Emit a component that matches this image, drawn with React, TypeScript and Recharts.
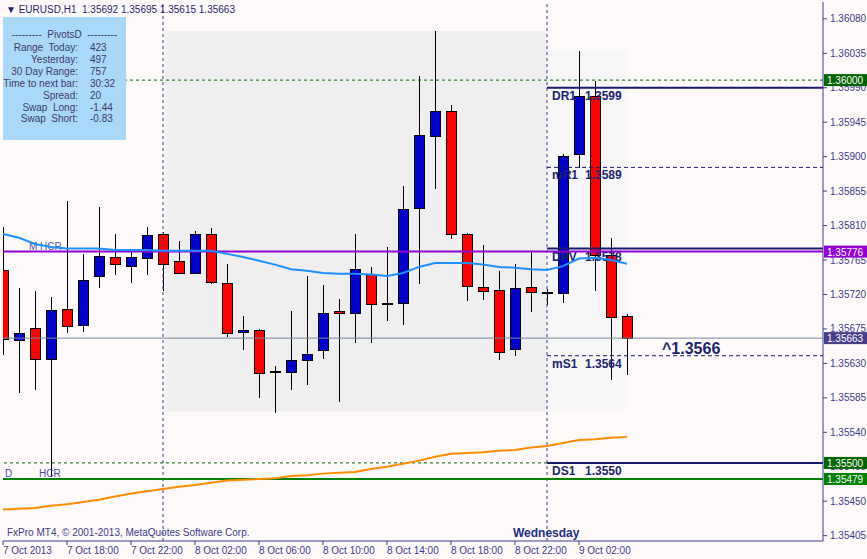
import React from 'react';
import { ComposedChart, Bar, Line, XAxis, YAxis, ReferenceLine, ReferenceArea } from 'recharts';

const FONT = '"Liberation Sans", Arial, sans-serif';
const AXIS = '#3C3C8C';
const NAVY = '#1C2470';

// H1 bars, index 0 = 7 Oct 14:00
const barIndex = [0, 1, 2, 3, 4, 5, 6, 7, 8, 9, 10, 11, 12, 13, 14, 15, 16, 17, 18, 19, 20, 21, 22, 23, 24, 25, 26, 27, 28, 29, 30, 31, 32, 33, 34, 35, 36, 37, 38, 39];
const opens = [1.35752, 1.35661, 1.35676, 1.35636, 1.35701, 1.3568, 1.35744, 1.35769, 1.35757, 1.35768, 1.35799, 1.35764, 1.35748, 1.35799, 1.35735, 1.35671, 1.35674, 1.35619, 1.35619, 1.35635, 1.35648, 1.35699, 1.35696, 1.35747, 1.35708, 1.35709, 1.35833, 1.35927, 1.3596, 1.35799, 1.3573, 1.35726, 1.35649, 1.3573, 1.35722, 1.35722, 1.35904, 1.35979, 1.35772, 1.35692];
const highs = [1.35808, 1.35729, 1.35725, 1.35717, 1.35842, 1.35773, 1.35834, 1.35799, 1.35777, 1.35808, 1.35802, 1.3579, 1.35803, 1.35807, 1.3576, 1.35692, 1.35675, 1.35627, 1.35699, 1.35744, 1.35733, 1.35714, 1.35799, 1.35756, 1.35782, 1.35862, 1.36006, 1.36064, 1.35968, 1.358, 1.35785, 1.35751, 1.3576, 1.35776, 1.35727, 1.35904, 1.36038, 1.35999, 1.35794, 1.35695];
const lows = [1.35641, 1.35591, 1.35595, 1.35482, 1.3567, 1.35671, 1.35729, 1.35746, 1.35735, 1.35746, 1.35725, 1.35747, 1.35747, 1.35734, 1.35665, 1.35648, 1.35585, 1.35565, 1.35595, 1.35602, 1.35636, 1.3558, 1.35656, 1.35657, 1.35686, 1.3568, 1.35734, 1.35858, 1.35793, 1.35712, 1.35713, 1.35635, 1.35639, 1.35697, 1.35706, 1.35709, 1.35885, 1.35725, 1.35608, 1.35615];
const closes = [1.35662, 1.3567, 1.35636, 1.357, 1.35679, 1.35739, 1.3577, 1.3576, 1.35769, 1.35798, 1.3576, 1.35748, 1.35799, 1.35736, 1.3567, 1.35674, 1.35618, 1.35619, 1.35635, 1.35642, 1.35696, 1.35696, 1.35753, 1.35708, 1.35708, 1.35832, 1.35928, 1.3596, 1.35799, 1.35731, 1.35725, 1.35645, 1.35729, 1.35723, 1.35722, 1.35901, 1.35979, 1.35772, 1.35691, 1.35663];
const maFast = [1.35799, 1.35794, 1.35786, 1.35782, 1.3578, 1.3578, 1.3578, 1.35778, 1.35778, 1.35778, 1.35777, 1.35777, 1.35777, 1.35777, 1.35773, 1.35769, 1.35764, 1.35759, 1.35753, 1.35751, 1.35748, 1.35747, 1.35747, 1.35746, 1.35744, 1.35748, 1.35756, 1.35761, 1.35761, 1.35761, 1.35759, 1.35756, 1.35755, 1.35753, 1.35752, 1.35757, 1.35767, 1.35768, 1.35765, 1.3576];
const maSlow = [1.35439, 1.3544, 1.35441, 1.35444, 1.35446, 1.35449, 1.35452, 1.35456, 1.3546, 1.35463, 1.35466, 1.35469, 1.35471, 1.35474, 1.35477, 1.35478, 1.35479, 1.3548, 1.35483, 1.35484, 1.35486, 1.35487, 1.35488, 1.35492, 1.35495, 1.35499, 1.35503, 1.35508, 1.35512, 1.35513, 1.35514, 1.35516, 1.35517, 1.3552, 1.35522, 1.35526, 1.3553, 1.35531, 1.35533, 1.35534];

const priceTicks = [1.3608, 1.36035, 1.3599, 1.35945, 1.359, 1.35855, 1.3581, 1.35765, 1.3572, 1.35675, 1.3563, 1.35585, 1.3554, 1.35495, 1.3545, 1.35405];
const timeTicks = [0, 4, 8, 12, 16, 20, 24, 28, 32, 36];
const timeLabels = ['7 Oct 2013', '7 Oct 18:00', '7 Oct 22:00', '8 Oct 02:00', '8 Oct 06:00', '8 Oct 10:00', '8 Oct 14:00', '8 Oct 18:00', '8 Oct 22:00', '9 Oct 02:00'];

const pivotNames = ['DR1', 'mR1', 'DPV', 'mS1', 'DS1'];
const pivotValues = [1.3599, 1.35886, 1.3578, 1.3564, 1.355];
const pivotLabels = ['1.3599', '1.3589', '1.3578', '1.3564', '1.3550'];
const pivotDashed = [false, true, false, true, false];

const infoLabels = ['Range  Today:', 'Yesterday:', '30 Day Range:', 'Time to next bar:', 'Spread:', 'Swap  Long:', 'Swap  Short:'];
const infoValues = ['423', '497', '757', '30:32', '20', '-1.44', '-0.83'];

const data = barIndex.map((i, k) => ({
  i,
  open: opens[k],
  high: highs[k],
  low: lows[k],
  close: closes[k],
  range: [lows[k], highs[k]],
  maFast: maFast[k],
  maSlow: maSlow[k],
}));

const Candle = (props: any) => {
  const { x, y, width, height, payload } = props;
  if (!payload || x == null || y == null) return null;
  const { open, close, high, low } = payload;
  const top = Math.min(y, y + height);
  const h = Math.abs(height);
  const pix = (v: number) => top + ((high - v) / (high - low)) * h;
  const cx = Math.round(x + width / 2);
  const oy = pix(open);
  const cy = pix(close);
  const bTop = Math.round(Math.min(oy, cy));
  const bBot = Math.round(Math.max(oy, cy));
  const doji = Math.abs(close - open) < 0.000005;
  const up = close > open;
  return (
    <g shapeRendering="crispEdges">
      <line x1={cx + 0.5} x2={cx + 0.5} y1={top} y2={top + h} stroke="#000" strokeWidth={1} />
      {doji ? (
        <rect x={cx - 5} y={Math.round(oy) - 1} width={11} height={2} fill="#000" />
      ) : (
        <rect x={cx - 4.5} y={bTop + 0.5} width={10} height={Math.max(1, bBot - bTop)} fill={up ? '#0000CD' : '#FF0000'} stroke="#000" strokeWidth={1} />
      )}
    </g>
  );
};

const priceBox = (text: string, color: string, extra?: (vb: any) => React.ReactNode) => (props: any) => {
  const vb = props.viewBox;
  if (!vb) return null;
  const ly = vb.y;
  const rx = vb.x + vb.width + 1;
  return (
    <g>
      {extra ? extra(vb) : null}
      <rect x={rx} y={ly - 6} width={44} height={12} fill={color} />
      <text x={rx + 3} y={ly + 4} fill="#FFFFFF" fontSize={10} fontFamily={FONT}>{text}</text>
    </g>
  );
};

const pivotLabel = (name: string, val: string) => (props: any) => {
  const vb = props.viewBox;
  if (!vb) return null;
  return (
    <g>
      <text x={vb.x + 5} y={vb.y + 12} fill={NAVY} fontSize={12} fontWeight="bold" fontFamily={FONT}>{name}</text>
      <text x={vb.x + 38} y={vb.y + 12} fill={NAVY} fontSize={12} fontWeight="bold" fontFamily={FONT}>{val}</text>
    </g>
  );
};

const TimeTick = (props: any) => {
  const { x, y, payload } = props;
  const idx = timeTicks.indexOf(payload.value);
  return (
    <text x={x} y={y + 7} fill={AXIS} fontSize={10} fontFamily={FONT} textAnchor="start">{timeLabels[idx]}</text>
  );
};

export default function App() {
  return (
    <div style={{ position: 'absolute', left: 0, top: 0, width: 867, height: 559, background: '#FFFAFA', overflow: 'hidden', fontFamily: FONT }}>
      <ComposedChart width={867} height={559} data={data} margin={{ top: 2, right: 0, left: 3, bottom: 0 }}>
        <XAxis dataKey="i" type="number" domain={[0, 51.25]} allowDataOverflow ticks={timeTicks} interval={0}
          height={18} tickSize={4} tickMargin={2} stroke={AXIS} tick={<TimeTick />} />
        <XAxis xAxisId="top" dataKey="i" type="number" domain={[0, 51.25]} orientation="top" height={0} tick={false} tickLine={false} stroke={AXIS} />
        <YAxis type="number" orientation="right" domain={[1.35398, 1.36102]} allowDataOverflow ticks={priceTicks} interval={0}
          width={44} tickSize={4} tickMargin={3} stroke={AXIS}
          tick={{ fill: AXIS, fontSize: 10, fontFamily: FONT }} tickFormatter={(v: number) => v.toFixed(5)} />
        <YAxis yAxisId="left" orientation="left" width={0} tick={false} tickLine={false} stroke={AXIS} />

        <ReferenceArea x1={10.1} x2={34} y1={1.35567} y2={1.36064} fill="#EFEFEF" fillOpacity={1} stroke="none" />
        <ReferenceArea x1={34} x2={39} y1={1.35567} y2={1.3604} fill="#F7F7F7" fillOpacity={1} stroke="none" />

        <ReferenceLine x={10} stroke={AXIS} strokeDasharray="3 3" />
        <ReferenceLine x={34} stroke={AXIS} strokeDasharray="3 3" />

        <ReferenceLine y={1.36} stroke="#006400" strokeDasharray="3 3" />
        <ReferenceLine y={1.355} stroke="#006400" strokeDasharray="3 3" />

        {pivotValues.map((v, k) => (
          <ReferenceLine key={pivotNames[k]} segment={[{ x: 34, y: v }, { x: 51.25, y: v }]}
            stroke="#191970" strokeWidth={pivotDashed[k] ? 1 : 2} strokeDasharray={pivotDashed[k] ? '4 3' : undefined}
            label={pivotLabel(pivotNames[k], pivotLabels[k])} />
        ))}

        <ReferenceLine y={1.35776} stroke="#9400D3" strokeWidth={2}
          label={(p: any) => (p.viewBox ? <text x={p.viewBox.x + 26} y={p.viewBox.y - 2} fill="#5050A0" fontSize={10} fontFamily={FONT}>M HCR</text> : null)} />
        <ReferenceLine y={1.35663} stroke="#778899" strokeWidth={1}
          label={(p: any) => (p.viewBox ? <text x={p.viewBox.x + 659} y={p.viewBox.y + 16} fill={NAVY} fontSize={16} fontWeight="bold" fontFamily={FONT}>^1.3566</text> : null)} />
        <ReferenceLine y={1.35479} stroke="#008000" strokeWidth={2}
          label={(p: any) => (p.viewBox ? (
            <g>
              <text x={p.viewBox.x + 2} y={p.viewBox.y - 2} fill="#4848A0" fontSize={10} fontFamily={FONT}>D</text>
              <text x={p.viewBox.x + 36} y={p.viewBox.y - 2} fill="#4848A0" fontSize={10} fontFamily={FONT}>HCR</text>
            </g>
          ) : null)} />

        <Bar dataKey="range" barSize={10} shape={<Candle />} isAnimationActive={false} />
        <Line dataKey="maFast" type="linear" stroke="#1E90FF" strokeWidth={2} dot={false} activeDot={false} isAnimationActive={false} />
        <Line dataKey="maSlow" type="linear" stroke="#FF8C00" strokeWidth={2} dot={false} activeDot={false} isAnimationActive={false} />

        <ReferenceLine y={1.36} stroke="none" zIndex={2000} label={priceBox('1.36000', '#006400')} />
        <ReferenceLine y={1.35776} stroke="none" zIndex={2000} label={priceBox('1.35776', '#9400D3')} />
        <ReferenceLine y={1.35663} stroke="none" zIndex={2000} label={priceBox('1.35663', '#483D8B')} />
        <ReferenceLine y={1.355} stroke="none" zIndex={2000} label={priceBox('1.35500', '#006400')} />
        <ReferenceLine y={1.35479} stroke="none" zIndex={2000} label={priceBox('1.35479', '#008000')} />
      </ComposedChart>

      <div style={{ position: 'absolute', left: 6, top: 3, fontSize: 10, lineHeight: '13px', color: '#24246A', whiteSpace: 'pre' }}>
        {'\u25BC EURUSD,H1  1.35692 1.35695 1.35615 1.35663'}
      </div>

      <div style={{ position: 'absolute', left: 3, top: 17, width: 123, height: 123, background: '#AAD8F8', color: '#3B3B6B', fontSize: 10 }}>
        <div style={{ position: 'absolute', left: 0, width: 123, top: 12, lineHeight: '12px', textAlign: 'center', whiteSpace: 'pre' }}>
          {'---------  PivotsD  ---------'}
        </div>
        {infoLabels.map((lab, k) => (
          <React.Fragment key={lab}>
            <div style={{ position: 'absolute', left: 0, width: 75, top: 25 + k * 11.9, lineHeight: '12px', textAlign: 'right', whiteSpace: 'pre' }}>{lab}</div>
            <div style={{ position: 'absolute', left: 87, top: 25 + k * 11.9, lineHeight: '12px', whiteSpace: 'pre' }}>{infoValues[k]}</div>
          </React.Fragment>
        ))}
      </div>

      <div style={{ position: 'absolute', left: 7, top: 527, fontSize: 10, lineHeight: '12px', color: AXIS, whiteSpace: 'pre' }}>
        {'FxPro MT4, \u00A9 2001-2013, MetaQuotes Software Corp.'}
      </div>
      <div style={{ position: 'absolute', left: 513, top: 526, fontSize: 12, fontWeight: 'bold', lineHeight: '14px', color: '#1F2F7F' }}>
        Wednesday
      </div>
    </div>
  );
}
